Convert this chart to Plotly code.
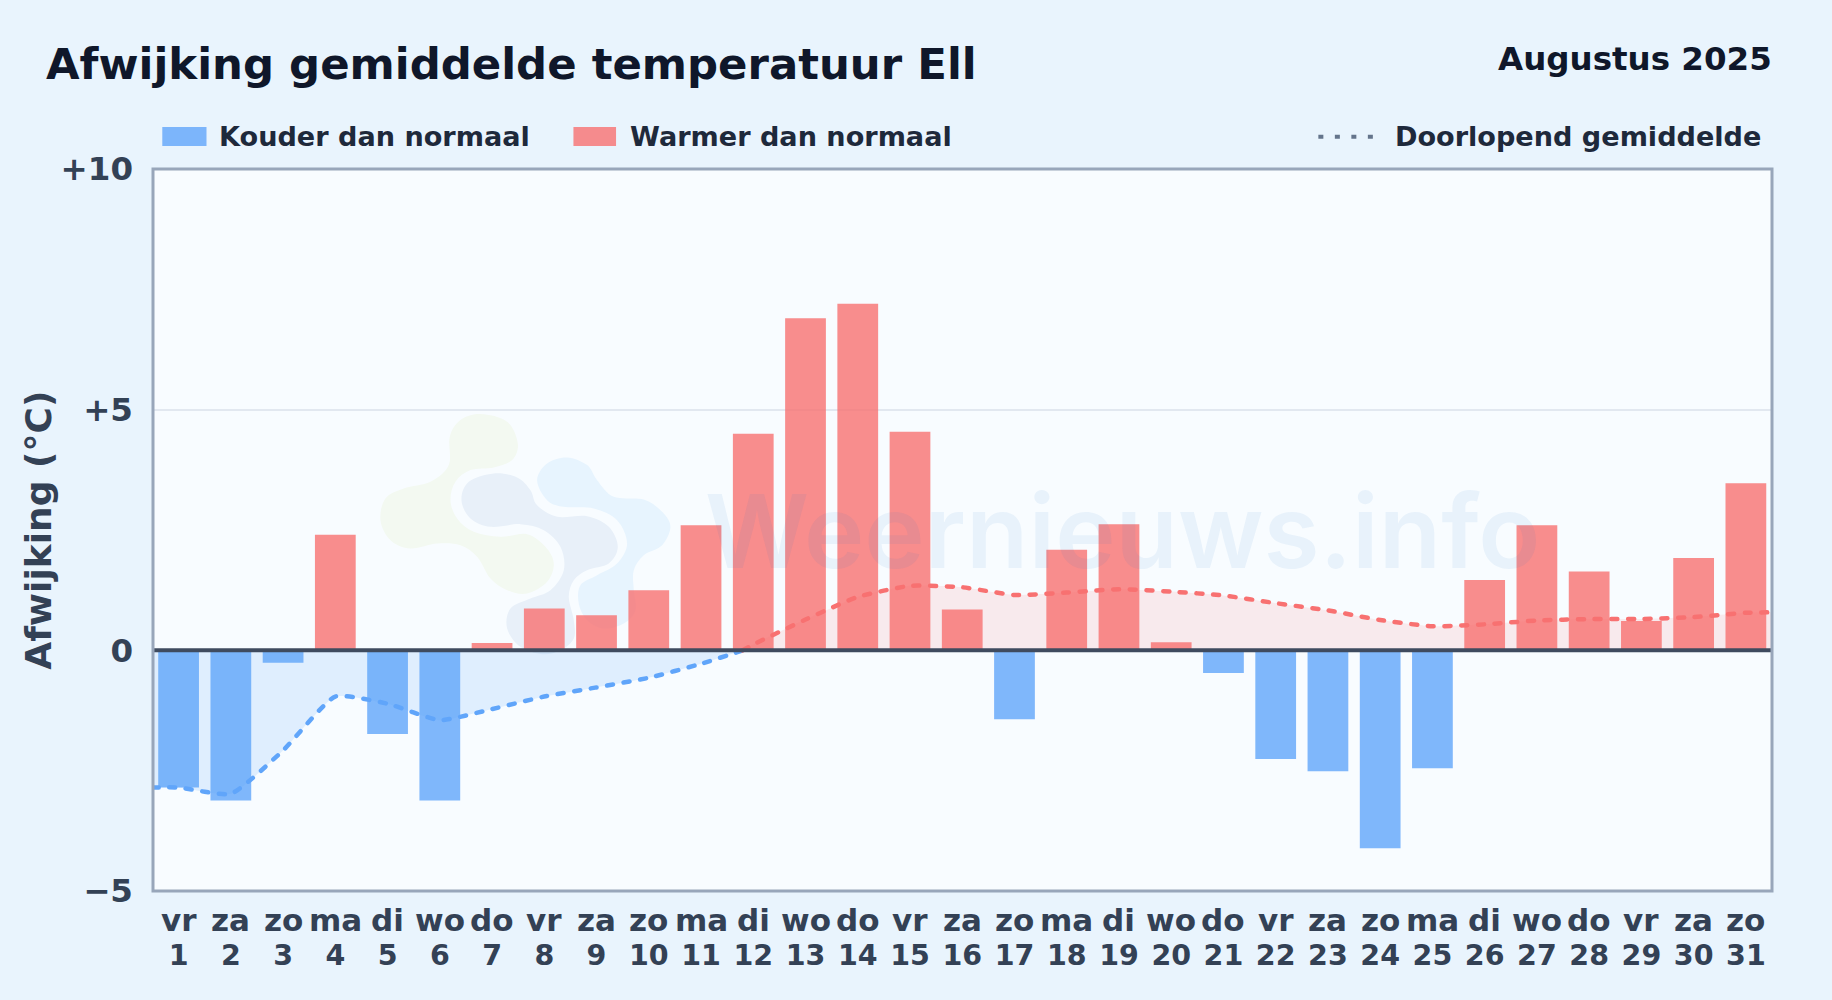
import plotly.graph_objects as go

days = list(range(1, 32))
weekdays = ["vr","za","zo","ma","di","wo","do","vr","za","zo","ma","di","wo","do","vr","za","zo","ma","di","wo","do","vr","za","zo","ma","di","wo","do","vr","za","zo"]
anomaly = [-2.85,-3.12,-0.26,2.40,-1.74,-3.12,0.15,0.87,0.73,1.25,2.60,4.50,6.90,7.20,4.54,0.85,-1.43,2.09,2.62,0.17,-0.47,-2.26,-2.51,-4.11,-2.45,1.46,2.60,1.64,0.61,1.92,3.47]
avg_x_cold = [0.5,1,2,3,4,5,6,7,8,9,10,11,11.8]
avg_y_cold = [-2.85,-2.85,-2.98,-2.08,-0.96,-1.11,-1.45,-1.22,-0.96,-0.77,-0.57,-0.28,0]
avg_x_warm = [11.8,12,13,14,15,16,17,18,19,20,21,22,23,24,25,26,27,28,29,30,31,31.5]
avg_y_warm = [0,0.12,0.64,1.11,1.34,1.31,1.15,1.20,1.27,1.22,1.14,0.98,0.83,0.63,0.50,0.54,0.62,0.65,0.65,0.69,0.78,0.79]
y_ticks = [-5,0,5,10]
y_labels = ["−5","0","+5","+10"]

BLUE="#60a5fa"; RED="#f87171"
FONT="DejaVu Sans"
L,R,T,B = 152.5,1771.7,169.0,890.7
def px(x): return (x-L)/(R-L)
def py(y): return (B-y)/(B-T)

def blob(zpts):
    pts=[(px(360+a/3),py(390+b/3)) for a,b in zpts]
    n=len(pts); d=f"M{pts[0][0]:.5f},{pts[0][1]:.5f}"
    for i in range(n):
        p0,p1,p2,p3=pts[i-1],pts[i],pts[(i+1)%n],pts[(i+2)%n]
        c1=(p1[0]+(p2[0]-p0[0])/6,p1[1]+(p2[1]-p0[1])/6)
        c2=(p2[0]-(p3[0]-p1[0])/6,p2[1]-(p3[1]-p1[1])/6)
        d+=f"C{c1[0]:.5f},{c1[1]:.5f} {c2[0]:.5f},{c2[1]:.5f} {p2[0]:.5f},{p2[1]:.5f}"
    return d+"Z"

logo_green=[(360,72),(440,95),(472,160),(455,210),(400,232),(330,240),(285,275),(270,330),(290,385),(340,425),(420,440),(500,432),(555,470),(580,520),(560,575),(500,610),(440,600),(390,565),(350,500),(300,465),(230,460),(150,475),(90,450),(60,390),(75,325),(130,295),(210,275),(265,225),(268,140),(300,90)]
logo_grey=[(400,250),(470,262),(510,300),(530,345),(590,380),(680,378),(745,410),(772,470),(745,520),(680,540),(640,570),(625,620),(640,690),(640,745),(600,780),(545,792),(480,770),(440,715),(450,655),(510,625),(570,600),(610,540),(600,470),(550,420),(480,402),(390,410),(330,385),(303,330),(325,275)]
logo_light=[(620,202),(680,225),(710,270),(760,320),(850,328),(905,365),(930,410),(905,465),(850,495),(820,540),(820,600),(825,660),(790,700),(730,715),(680,690),(655,640),(660,585),(710,555),(770,520),(800,460),(770,390),(700,355),(610,350),(560,330),(530,270),(560,220)]

fig=go.Figure()
fig.add_bar(name="Kouder dan normaal",x=[d for d,v in zip(days,anomaly) if v<0],y=[v for v in anomaly if v<0],width=0.78,marker=dict(color=BLUE,opacity=0.8,line_width=0))
fig.add_bar(name="Warmer dan normaal",x=[d for d,v in zip(days,anomaly) if v>=0],y=[v for v in anomaly if v>=0],width=0.78,marker=dict(color=RED,opacity=0.8,line_width=0))
for name,xs,ys,c,fc in [("Doorlopend gemiddelde",avg_x_cold,avg_y_cold,BLUE,"rgba(96,165,250,0.16)"),("Doorlopend gemiddelde",avg_x_warm,avg_y_warm,RED,"rgba(248,113,113,0.13)")]:
    fig.add_scatter(name=name,x=xs,y=ys,mode="lines",fill="tozeroy",fillcolor=fc,line=dict(color=c,width=4.5,dash="6px,10.7px",shape="spline",smoothing=0.5))

shapes=[
 dict(type="path",xref="paper",yref="paper",path=blob(logo_green),fillcolor="#f3f9f1",line_width=0,layer="below"),
 dict(type="path",xref="paper",yref="paper",path=blob(logo_light),fillcolor="#e7f4fe",line_width=0,layer="below"),
 dict(type="path",xref="paper",yref="paper",path=blob(logo_grey),fillcolor="#e8f0f9",line_width=0,layer="below"),
 dict(type="line",xref="paper",yref="y",x0=0,x1=1,y0=0,y1=0,line=dict(color="#3f4b5f",width=4),layer="above"),
 dict(type="rect",xref="paper",yref="paper",x0=0,x1=1,y0=0,y1=1,line=dict(color="#98a6ba",width=3),layer="above"),
 dict(type="rect",xref="paper",yref="paper",x0=px(161.8),x1=px(206),y0=py(127),y1=py(146),fillcolor="rgba(96,165,250,0.8)",line_width=0),
 dict(type="rect",xref="paper",yref="paper",x0=px(573),x1=px(615.6),y0=py(127),y1=py(146),fillcolor="rgba(248,113,113,0.8)",line_width=0),
 dict(type="line",xref="paper",yref="paper",x0=px(1318),x1=px(1376),y0=py(136.7),y1=py(136.7),line=dict(color="#64748b",width=4,dash="5px,11.5px")),
]
def note(text,x,y,size,color,anchor="left",weight="bold",family=FONT,angle=0):
    return dict(text=text,xref="paper",yref="paper",x=px(x),y=py(y),xanchor=anchor,yanchor="middle",showarrow=False,borderpad=0,textangle=angle,
                font=dict(family=family,size=size,color=color,weight=weight))
annotations=[
 note("Afwijking gemiddelde temperatuur Ell",44.5,64.5,43.4,"#0f172a"),
 note("Augustus 2025",1773,59,32.5,"#0f172a","right"),
 note("Kouder dan normaal",217.5,137,27.1,"#1e293b"),
 note("Warmer dan normaal",629,137,27.1,"#1e293b"),
 note("Doorlopend gemiddelde",1762,137,27.1,"#1e293b","right"),
 note("Afwijking (°C)",38.5,530.5,36,"#334155","center",angle=-90),
 note("Weernieuws.info",1122,531,102,"rgba(30,120,200,0.07)","center",600,"Inter"),
]
for d,w in zip(days,weekdays):
    annotations.append(dict(text=w,xref="x",yref="paper",x=d,y=py(919.5),xanchor="center",yanchor="middle",showarrow=False,borderpad=0,
                            font=dict(family=FONT,size=31,color="#334155",weight="bold")))
fig.update_layout(
 width=1832,height=1000,autosize=False,
 paper_bgcolor="#e9f4fd",plot_bgcolor="#f8fcff",
 margin=dict(l=L,r=1832-R,t=T,b=1000-B,pad=0),
 barmode="overlay",showlegend=False,
 font=dict(family=FONT),
 shapes=shapes,annotations=annotations,
 xaxis=dict(range=[0.51,31.5],tickmode="array",tickvals=days,ticktext=[str(d) for d in days],ticklabelstandoff=44,
            tickfont=dict(size=28.5,color="#334155",weight="bold"),ticks="",showgrid=False,zeroline=False,showline=False,tickangle=0),
 yaxis=dict(range=[-5,10],tickmode="array",tickvals=y_ticks,ticktext=y_labels,ticklabelstandoff=19,
            tickfont=dict(size=32.5,color="#334155",weight="bold"),ticks="",showgrid=True,gridcolor="#e2e8f0",gridwidth=1.5,zeroline=False,showline=False),
)
post="""document.body.style.margin='0';
var s=document.createElement('style');s.textContent='.scatterlayer path.js-line{stroke-linecap:round}';document.head.appendChild(s);
"""
fig.write_html("out.html",post_script=post,config=dict(displayModeBar=False))
